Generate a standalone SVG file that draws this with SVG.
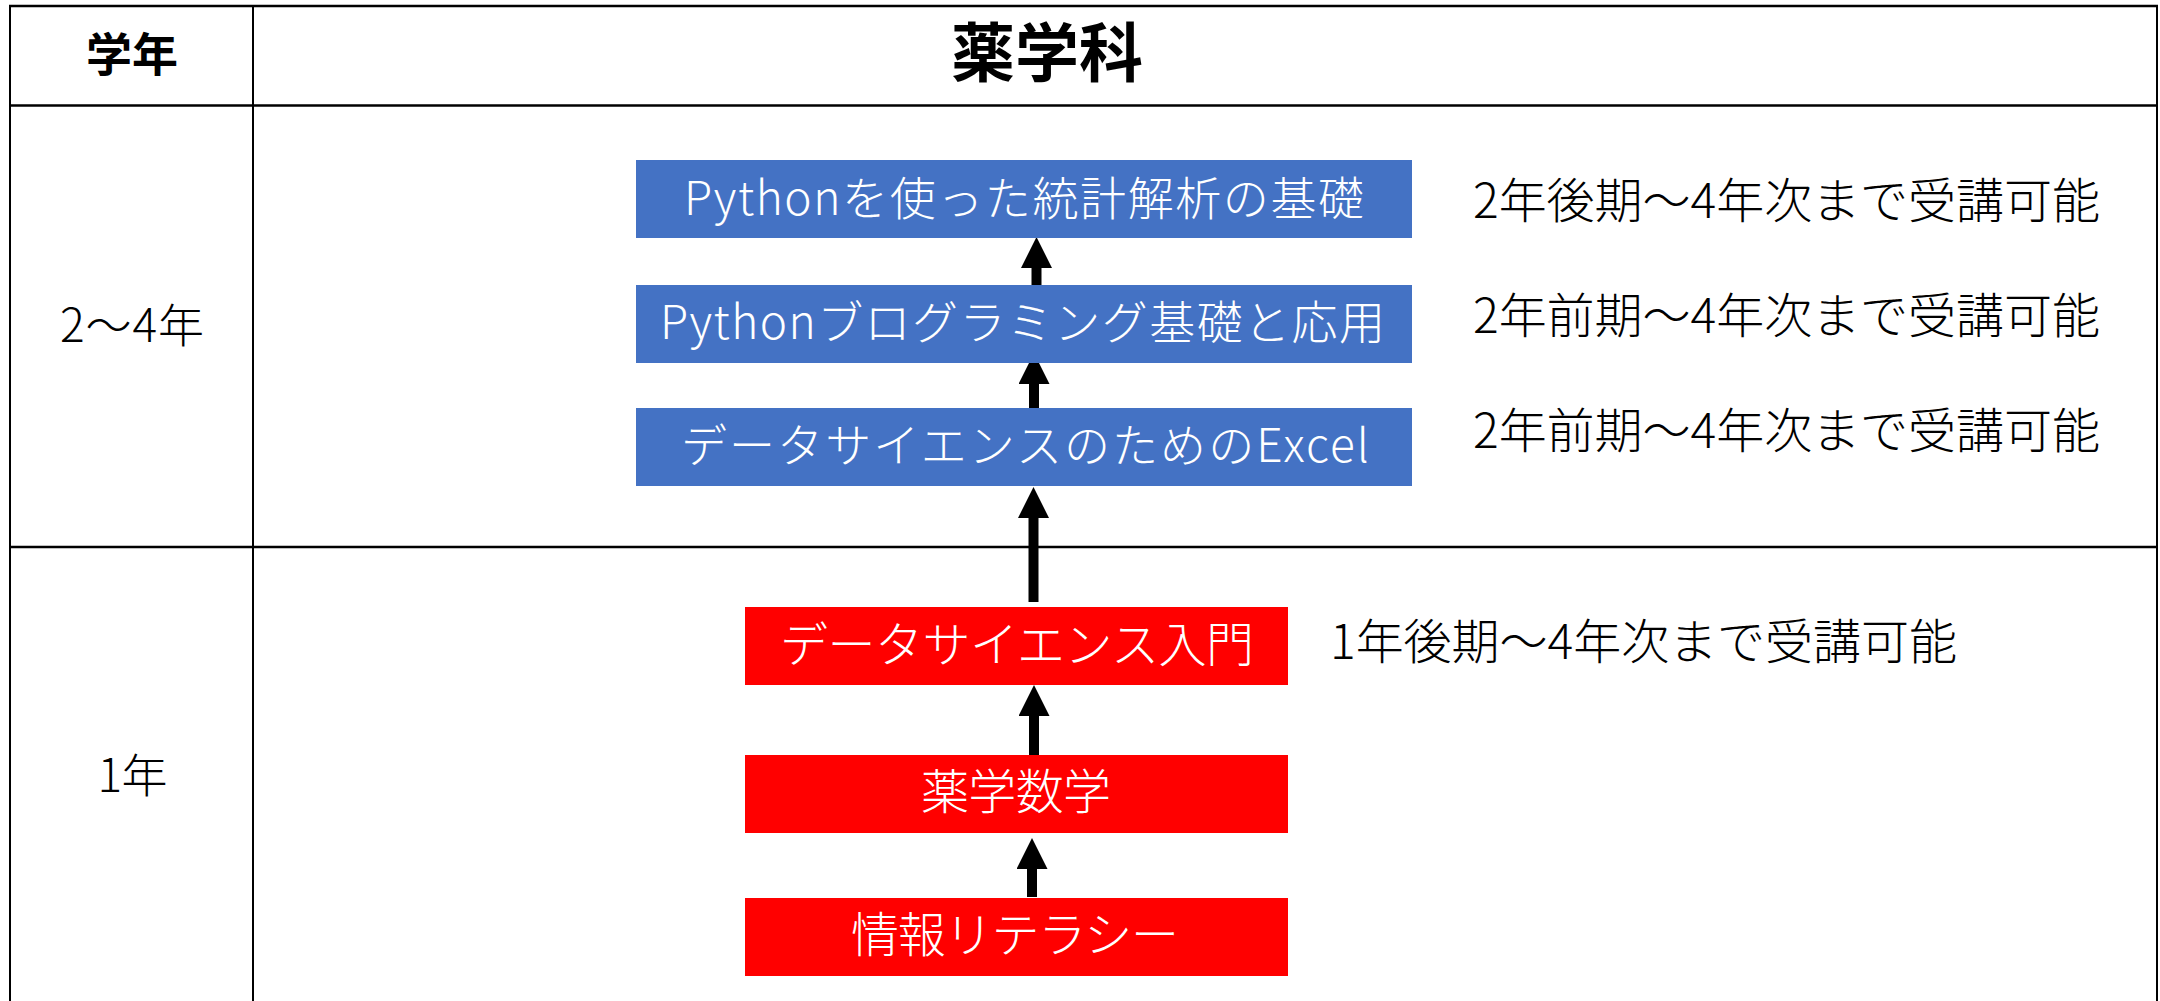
<svg xmlns="http://www.w3.org/2000/svg" width="2160" height="1001" viewBox="0 0 2160 1001">
<style>
.grid{stroke:#000;stroke-width:2.5;fill:none}
.vgrid{stroke:#000;stroke-width:2;fill:none}
.t{font-family:"Noto Sans CJK JP","Noto Sans",sans-serif;font-weight:300}
.hd{font-family:"Noto Sans CJK JP","Noto Sans",sans-serif;font-weight:700;fill:#000}
.wt{fill:#fff}
.bk{fill:#000}
.blue{fill:#4472C4}
.red{fill:#FF0000}
.arr{stroke:#000;stroke-width:10;fill:none;marker-end:url(#ah)}
</style>
<defs>
<marker id="ah" markerUnits="userSpaceOnUse" markerWidth="31" markerHeight="31" refX="0" refY="15.5" orient="auto" viewBox="0 0 31 31">
<path d="M0,0 L31,15.5 L0,31 z" fill="#000"/>
</marker>
</defs>
<rect width="2160" height="1001" fill="#fff"/>
<g id="table">
<line class="grid" x1="9" y1="6" x2="2158" y2="6"/>
<line class="grid" x1="10" y1="105.5" x2="2157" y2="105.5"/>
<line class="grid" x1="10" y1="547" x2="2157" y2="547"/>
<line class="vgrid" x1="10" y1="5" x2="10" y2="1001"/>
<line class="vgrid" x1="253" y1="6" x2="253" y2="1001"/>
<line class="vgrid" x1="2157" y1="5" x2="2157" y2="1001"/>
<text class="hd" x="132" y="71" font-size="46" text-anchor="middle">学年</text>
<text class="hd" x="1047" y="76" font-size="64" text-anchor="middle">薬学科</text>
<text class="t bk" x="132" y="341.5" font-size="46" text-anchor="middle" textLength="144">2〜4年</text>
<text class="t bk" x="132.5" y="791.5" font-size="46" text-anchor="middle" textLength="70">1年</text>
</g>
<g id="connectors">
<line class="arr" x1="1036.5" y1="285" x2="1036.5" y2="268"/>
<line class="arr" x1="1034" y1="413" x2="1034" y2="384"/>
<line class="arr" x1="1033.5" y1="602" x2="1033.5" y2="518"/>
<line class="arr" x1="1034" y1="755" x2="1034" y2="716"/>
<line class="arr" x1="1032" y1="897" x2="1032" y2="869"/>
</g>
<g id="n_stats">
<rect class="blue" x="636" y="160" width="776" height="78"/>
<text class="t wt" x="1024" y="214.5" font-size="46" text-anchor="middle" textLength="680">Pythonを使った統計解析の基礎</text>
</g>
<g id="n_python">
<rect class="blue" x="636" y="285" width="776" height="78"/>
<text class="t wt" x="1022.5" y="339" font-size="46" text-anchor="middle" textLength="725">Pythonブログラミング基礎と応用</text>
</g>
<g id="n_excel">
<rect class="blue" x="636" y="408" width="776" height="78"/>
<text class="t wt" x="1025" y="461.5" font-size="46" text-anchor="middle" textLength="688">データサイエンスのためのExcel</text>
</g>
<g id="n_ds">
<rect class="red" x="745" y="607" width="543" height="78"/>
<text class="t wt" x="1017" y="662" font-size="48" text-anchor="middle" textLength="474">データサイエンス入門</text>
</g>
<g id="n_math">
<rect class="red" x="745" y="755" width="543" height="78"/>
<text class="t wt" x="1016" y="809" font-size="48" text-anchor="middle" textLength="190">薬学数学</text>
</g>
<g id="n_lit">
<rect class="red" x="745" y="898" width="543" height="78"/>
<text class="t wt" x="1015" y="952" font-size="48" text-anchor="middle" textLength="328">情報リテラシー</text>
</g>
<g id="notes">
<text class="t bk" x="1473" y="218" font-size="48" textLength="627">2年後期〜4年次まで受講可能</text>
<text class="t bk" x="1473" y="333" font-size="48" textLength="627">2年前期〜4年次まで受講可能</text>
<text class="t bk" x="1473" y="448" font-size="48" textLength="627">2年前期〜4年次まで受講可能</text>
<text class="t bk" x="1330" y="659" font-size="48" textLength="627">1年後期〜4年次まで受講可能</text>
</g>
</svg>
